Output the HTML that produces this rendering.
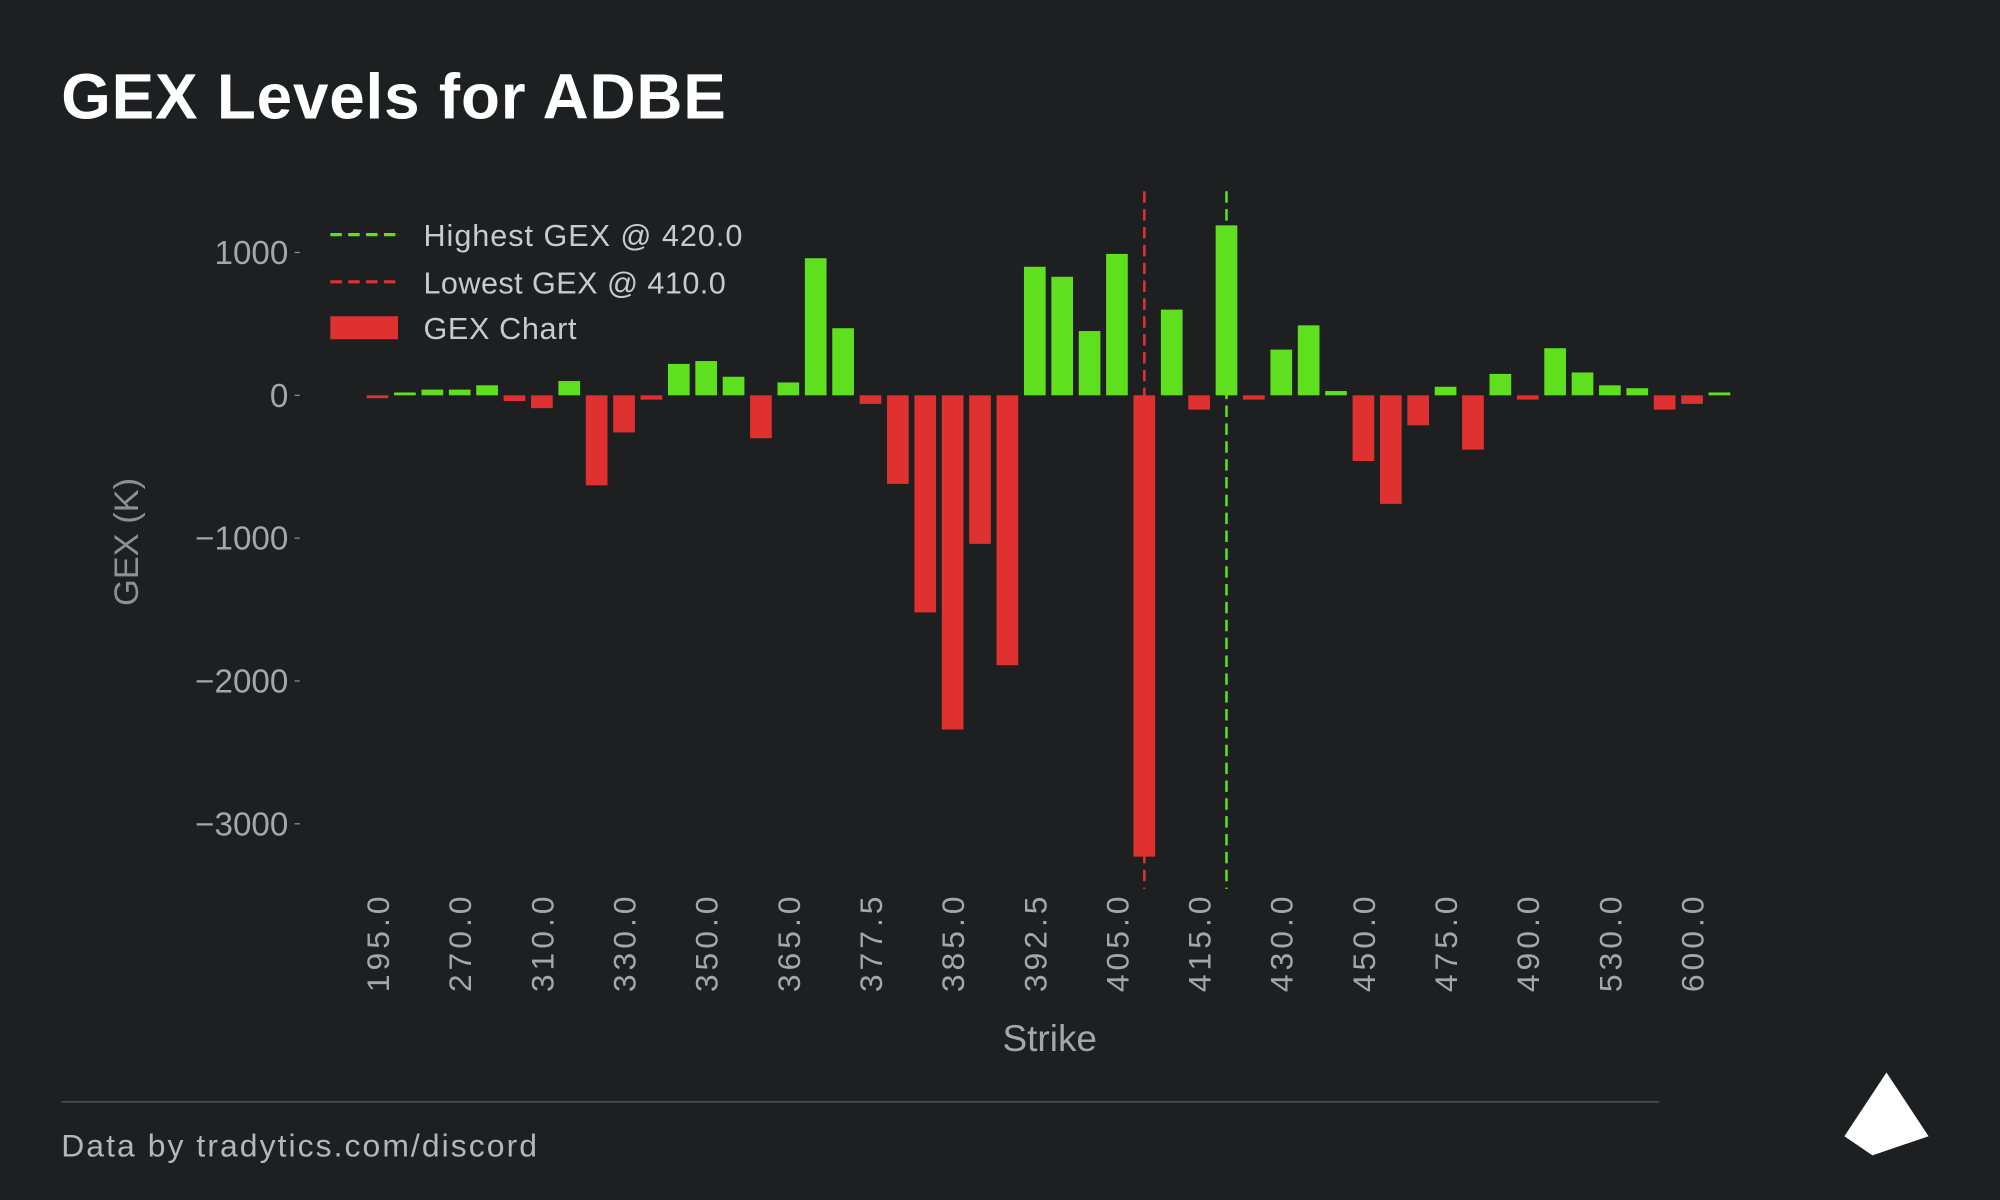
<!DOCTYPE html>
<html><head><meta charset="utf-8"><style>
html,body{margin:0;padding:0;background:#1e1f21;}
svg{display:block;font-family:"Liberation Sans",sans-serif;}
</style></head><body>
<svg id="chart" width="2000" height="1200" viewBox="0 0 1568 941" preserveAspectRatio="none" xmlns="http://www.w3.org/2000/svg">
<rect width="1568" height="941" fill="#1e1f21"/>
<text x="48" y="93" font-size="50" font-weight="bold" fill="#ffffff" textLength="521">GEX Levels for ADBE</text>
<g id="grid"></g>
<g id="bars"></g>
<g id="lines"></g>
<g id="yaxis"></g>
<g id="xaxis"></g>
<text x="0" y="0" transform="translate(108,425) rotate(-90)" text-anchor="middle" font-size="27" fill="#8e8f93">GEX (K)</text>
<text x="823" y="824" text-anchor="middle" font-size="29" fill="#a5a6aa">Strike</text>
<g>
<line x1="259" y1="184" x2="312" y2="184" stroke="#5ee01f" stroke-width="2.5" stroke-dasharray="9,5"/>
<text x="332" y="193" font-size="24" fill="#c9cacd" textLength="250">Highest GEX @ 420.0</text>
<line x1="259" y1="221" x2="312" y2="221" stroke="#e03131" stroke-width="2.5" stroke-dasharray="9,5"/>
<text x="332" y="230" font-size="24" fill="#c9cacd" textLength="237">Lowest GEX @ 410.0</text>
<rect x="259" y="248" width="53" height="18" fill="#e03131"/>
<text x="332" y="266" font-size="24" fill="#c9cacd" textLength="120">GEX Chart</text>
</g>
<line x1="48" y1="864" x2="1301" y2="864" stroke="#4a4b4f" stroke-width="1.2"/>
<text x="48" y="907" font-size="25" fill="#b5b6ba" textLength="373">Data by tradytics.com/discord</text>
<polygon points="1479,841 1446,891 1468,906 1512,891" fill="#ffffff"/>
</svg>
<script>
const strikes=[195,240,260,270,280,300,310,320,325,330,340,345,350,355,360,365,370,375,377.5,380,382.5,385,387.5,390,392.5,395,400,405,410,412.5,415,420,425,430,435,440,450,460,470,475,480,485,490,500,520,530,550,580,600,620,650];
const gex=[-20,20,40,40,70,-40,-90,100,-630,-260,-30,220,240,130,-300,90,960,470,-60,-620,-1520,-2340,-1040,-1890,900,830,450,990,-3230,600,-100,1190,-30,320,490,30,-460,-760,-210,60,-380,150,-30,330,160,70,50,-100,-60,20];
const yTicks=[1000,0,-1000,-2000,-3000];
const yTickLabels=["1000","0","\u22121000","\u22122000","\u22123000"];
const highest=420, lowest=410;
const NS="http://www.w3.org/2000/svg";
const x0=296, step=21.47, bw=17;
const y0=310, ppu=112/1000;
function xs(i){return x0+i*step;}
function ys(v){return y0-v*ppu;}
function mk(t,a,p){const e=document.createElementNS(NS,t);for(const k in a)e.setAttribute(k,a[k]);p.appendChild(e);return e;}
const bars=document.getElementById('bars');
gex.forEach((v,i)=>{
  const y=Math.min(ys(v),ys(0)),h=Math.abs(ys(v)-ys(0));
  const r=mk('rect',{x:xs(i)-bw/2,y:y,width:bw,height:Math.max(h,1),fill:v>=0?'#5ee01f':'#e03131'},bars);
  
  
});
const ya=document.getElementById('yaxis');
yTicks.forEach((t,i)=>{
  mk('line',{x1:231,x2:235,y1:ys(t),y2:ys(t),stroke:'#8e8f93','stroke-width':1},ya);
  const tx=mk('text',{x:226,y:ys(t)+9,'text-anchor':'end','font-size':26,fill:'#a5a6aa'},ya);
  tx.textContent=yTickLabels[i];
  
  
});
const xa=document.getElementById('xaxis');
strikes.forEach((s,i)=>{
  if(i%3!==0)return;
  const tx=mk('text',{x:0,y:0,transform:`translate(${xs(i)+9},703) rotate(-90)`,'text-anchor':'end','font-size':25,fill:'#a5a6aa',textLength:75},xa);
  tx.textContent=s.toFixed(1);
  
  
});
const ln=document.getElementById('lines');
const hi=strikes.indexOf(highest), lo=strikes.indexOf(lowest);
const l1=mk('line',{x1:xs(hi),x2:xs(hi),y1:150,y2:697,stroke:'#5ee01f','stroke-width':2,'stroke-dasharray':'9,5'},ln);


const l2=mk('line',{x1:xs(lo),x2:xs(lo),y1:150,y2:697,stroke:'#e03131','stroke-width':2,'stroke-dasharray':'9,5'},ln);


</script>
</body></html>
